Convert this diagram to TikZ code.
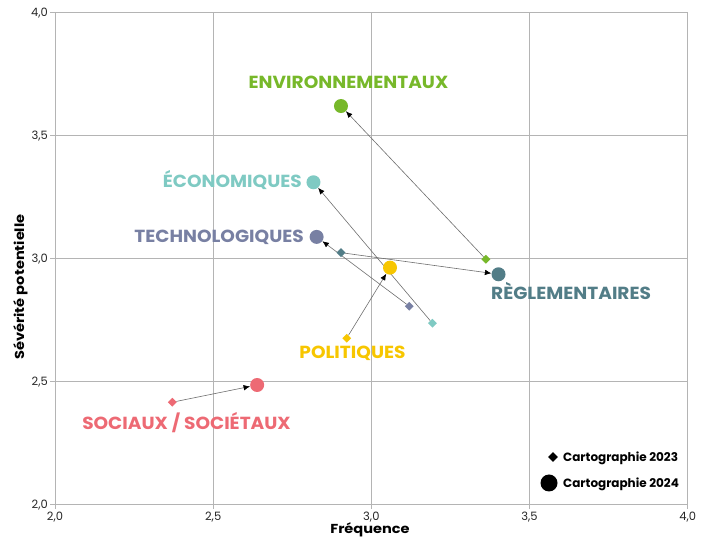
\documentclass[tikz,border=0pt]{standalone}
\usepackage{fontspec}
\setmainfont{Poppins}
\newfontfamily\labelfont[FakeStretch=1.06]{Poppins}
\newfontfamily\titlefont[FakeStretch=1.12]{Poppins}
\usetikzlibrary{shapes.geometric,arrows.meta,backgrounds}
\definecolor{cenv}{HTML}{77B82A}
\definecolor{ceco}{HTML}{7FCAC3}
\definecolor{ctec}{HTML}{7880A3}
\definecolor{creg}{HTML}{527D87}
\definecolor{cpol}{HTML}{F7C600}
\definecolor{csoc}{HTML}{ED6A74}
\definecolor{cgrid}{HTML}{B4B4B4}
\definecolor{cline}{HTML}{6E6E6E}
\begin{document}
\begin{tikzpicture}[x=1pt,y=1pt,
  gridline/.style={draw=cgrid, line width=0.9pt},
  pttwentyfour/.style={circle, inner sep=0pt, minimum size=14pt},
  pttwentythree/.style={diamond, inner sep=0pt, minimum size=9pt},
  conn/.style={draw=cline, line width=0.6pt, -{Latex[length=6.5pt,width=5.5pt,color=black]}},
  catlabel/.style={inner sep=0pt, font=\labelfont\fontsize{17.5}{20}\selectfont\bfseries},
  ticklabel/.style={inner sep=0pt, font=\fontsize{11.5}{13}\selectfont, text=black!85},
  axistitle/.style={inner sep=0pt, font=\titlefont\fontsize{13}{15}\selectfont\bfseries},
  legendtext/.style={inner sep=0pt, anchor=base west, font=\fontsize{12}{14}\selectfont\bfseries}]
\useasboundingbox (0,0) rectangle (712,540);
\begin{scope}[shift={(55,35.7)}, x=316.35pt, y=246pt, shift={(-2,-2)}]
  % data nodes
  \node[pttwentyfour, fill=cenv] (env24) at (2.904,3.619) {};
  \node[pttwentythree, fill=cenv] (env23) at (3.362,2.996) {};
  \node[pttwentyfour, fill=ceco] (eco24) at (2.817,3.309) {};
  \node[pttwentythree, fill=ceco] (eco23) at (3.193,2.736) {};
  \node[pttwentyfour, fill=ctec] (tec24) at (2.827,3.087) {};
  \node[pttwentythree, fill=ctec] (tec23) at (3.120,2.805) {};
  \node[pttwentyfour, fill=creg] (reg24) at (3.402,2.935) {};
  \node[pttwentythree, fill=creg] (reg23) at (2.904,3.023) {};
  \node[pttwentyfour, fill=cpol] (pol24) at (3.059,2.962) {};
  \node[pttwentythree, fill=cpol] (pol23) at (2.922,2.675) {};
  \node[pttwentyfour, fill=csoc] (soc24) at (2.639,2.485) {};
  \node[pttwentythree, fill=csoc] (soc23) at (2.371,2.415) {};
  \begin{pgfonlayer}{background}
    \foreach \v in {2.5,3,3.5} {
      \draw[gridline] (\v,2) -- (\v,4);
      \draw[gridline] (2,\v) -- (4,\v);
    }
    \draw[gridline] (2,2) rectangle (4,4);
    \foreach \v/\t in {2/{2,0},2.5/{2,5},3/{3,0},3.5/{3,5},4/{4,0}} {
      \draw[gridline] (2,\v) -- ++(-5pt,0);
      \draw[gridline] (\v,2) -- ++(0,-5pt);
      \node[ticklabel, anchor=base east, xshift=-7pt, yshift=-4pt] at (2,\v) {\t};
      \node[ticklabel, anchor=base, yshift=-16pt] at (\v,2) {\t};
    }
    \draw[conn] (env23) -- (env24);
    \draw[conn] (eco23) -- (eco24);
    \draw[conn] (tec23) -- (tec24);
    \draw[conn] (reg23) -- (reg24);
    \draw[conn] (pol23) -- (pol24);
    \draw[conn] (soc23) -- (soc24);
  \end{pgfonlayer}
\end{scope}
% category labels
\node[catlabel, text=cenv, anchor=base] (lenv) at (348.5,451) {ENVIRONNEMENTAUX};
\node[catlabel, text=ceco, anchor=base east] (leco) at (302,352) {ÉCONOMIQUES};
\node[catlabel, text=ctec, anchor=base east] (ltec) at (304,297) {TECHNOLOGIQUES};
\node[catlabel, text=creg, anchor=base west] (lreg) at (491,240) {RÈGLEMENTAIRES};
\node[catlabel, text=cpol, anchor=base] (lpol) at (352.5,181) {POLITIQUES};
\node[catlabel, text=csoc, anchor=base] (lsoc) at (186.5,110) {SOCIAUX / SOCIÉTAUX};
% axis titles
\node[axistitle, anchor=base] (xt) at (370,6) {Fréquence};
\node[axistitle, anchor=base, rotate=90] (yt) at (24,253) {Sévérité potentielle};
% legend
\node[diamond, fill=black, inner sep=0pt, minimum size=10pt] (lg23) at (553,83) {};
\node[legendtext] (lt23) at (563,78.5) {Cartographie 2023};
\node[circle, fill=black, inner sep=0pt, minimum size=17pt] (lg24) at (549,57) {};
\node[legendtext] (lt24) at (563,52.5) {Cartographie 2024};
\end{tikzpicture}
\end{document}
